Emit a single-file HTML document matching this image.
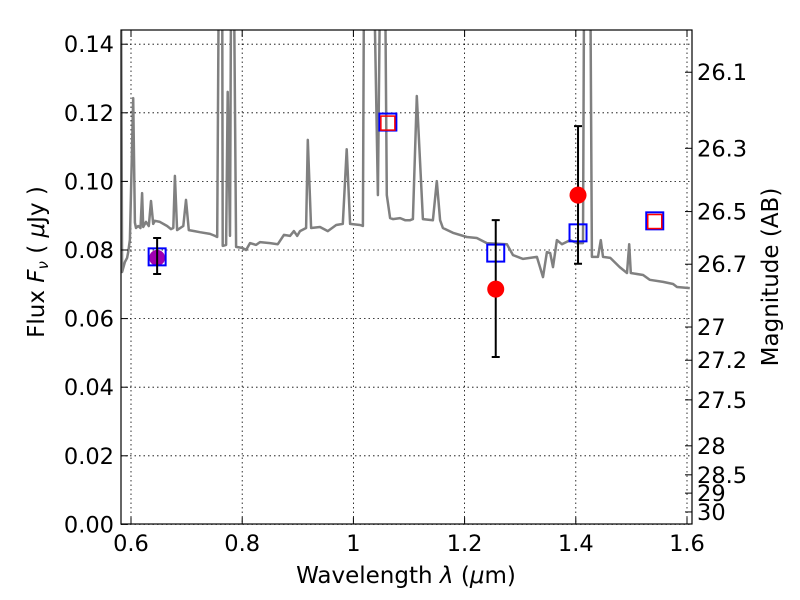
<!DOCTYPE html>
<html><head><meta charset="utf-8"><style>
html,body{margin:0;padding:0;background:#fff;}
svg{display:block;font-family:"DejaVu Sans","Liberation Sans",sans-serif;}
</style></head><body>
<svg id="chart" width="800" height="600" viewBox="0 0 800 600" xmlns="http://www.w3.org/2000/svg">
<defs><clipPath id="clip"><rect x="121" y="30" width="571" height="494"/></clipPath></defs>
<rect x="0" y="0" width="800" height="600" fill="#fff"/>
<g id="grid"></g>
<g id="plot" clip-path="url(#clip)"></g>
<rect x="121" y="30" width="571" height="494" fill="none" stroke="#000" stroke-width="1.2"/>
<g id="axes"></g>
<text x="406" y="583" font-size="23" text-anchor="middle">Wavelength  <tspan font-style="italic">λ</tspan> (<tspan font-style="italic">μ</tspan>m)</text>
<text transform="translate(44,262) rotate(-90)" font-size="23" text-anchor="middle">Flux  <tspan font-style="italic">F</tspan><tspan font-style="italic" font-size="15" dy="4">ν</tspan><tspan dy="-4">  ( </tspan><tspan font-style="italic">μ</tspan>Jy )</text>
<text transform="translate(778,277) rotate(-90)" font-size="23" text-anchor="middle">Magnitude (AB)</text>
</svg>
<script>
const specWave=[0.582,0.584,0.589,0.593,0.595,0.598,0.604,0.607,0.609,0.613,0.617,0.620,0.622,0.627,0.632,0.636,0.640,0.643,0.652,0.665,0.672,0.676,0.679,0.683,0.694,0.699,0.704,0.714,0.724,0.742,0.751,0.755,0.758,0.764,0.765,0.771,0.774,0.778,0.780,0.785,0.789,0.800,0.807,0.814,0.825,0.832,0.850,0.864,0.875,0.886,0.893,0.899,0.904,0.915,0.918,0.924,0.940,0.954,0.969,0.981,0.988,0.994,1.012,1.017,1.019,1.037,1.044,1.048,1.057,1.060,1.066,1.071,1.084,1.093,1.102,1.107,1.114,1.125,1.143,1.150,1.156,1.161,1.179,1.204,1.222,1.240,1.276,1.287,1.305,1.330,1.341,1.348,1.354,1.359,1.366,1.375,1.390,1.402,1.413,1.415,1.426,1.429,1.440,1.445,1.449,1.462,1.479,1.492,1.496,1.499,1.521,1.533,1.557,1.575,1.582,1.605];
const specFlux=[0.16,0.0736,0.0765,0.0777,0.0794,0.0830,0.1243,0.0880,0.0864,0.0870,0.0864,0.0966,0.0867,0.0882,0.0870,0.0943,0.0876,0.0885,0.0882,0.0870,0.0861,0.0864,0.1016,0.0858,0.0870,0.0946,0.0858,0.0855,0.0852,0.0847,0.0841,0.0838,0.16,0.16,0.0812,0.0815,0.1261,0.0841,0.16,0.16,0.0809,0.0806,0.0800,0.0820,0.0815,0.0823,0.0820,0.0817,0.0844,0.0841,0.0855,0.0841,0.0855,0.0864,0.1121,0.0864,0.0867,0.0855,0.0873,0.0876,0.1094,0.0876,0.0873,0.0870,0.16,0.16,0.0960,0.16,0.16,0.0960,0.0893,0.0890,0.0893,0.0887,0.0887,0.0890,0.1249,0.0890,0.0887,0.1001,0.0887,0.0864,0.0850,0.0838,0.0835,0.0820,0.0817,0.0785,0.0774,0.0780,0.0721,0.0794,0.0791,0.0750,0.0829,0.0817,0.0829,0.0820,0.0820,0.16,0.16,0.0780,0.0780,0.0829,0.0780,0.0777,0.0750,0.0733,0.0817,0.0733,0.0727,0.0713,0.0707,0.0701,0.0692,0.0689];
const modelWave=[0.647,1.062,1.256,1.404,1.542];
const modelFlux=[0.0780,0.1173,0.0791,0.0850,0.0885];
const innerWave=[1.062,1.542];
const innerFlux=[0.1170,0.0883];
const obsWave=[1.256,1.404];
const obsFlux=[0.0686,0.0960];
const obsLo=[0.0488,0.0760];
const obsHi=[0.0887,0.1161];
const purpleWave=[0.647];
const purpleFlux=[0.0777];
const purpleLo=[0.0730];
const purpleHi=[0.0835];
const xTicks=[0.6,0.8,1.0,1.2,1.4,1.6];
const xTickLabels=["0.6","0.8","1","1.2","1.4","1.6"];
const yTicks=[0,0.02,0.04,0.06,0.08,0.10,0.12,0.14];
const yTickLabels=["0.00","0.02","0.04","0.06","0.08","0.10","0.12","0.14"];
const magTicks=[26.1,26.3,26.5,26.7,27,27.2,27.5,28,28.5,29,30];
const magTickLabels=["26.1","26.3","26.5","26.7","27","27.2","27.5","28","28.5","29","30"];

const NS="http://www.w3.org/2000/svg";
const X0=121,X1=692,Y0=524.4,Y1=30;
function sx(l){return 131+(l-0.6)*556;}
function sy(f){return 524.4-f*3430;}
function magToFlux(m){return Math.pow(10,(23.9-m)/2.5);}
function mk(tag,attrs,parent){const e=document.createElementNS(NS,tag);for(const k in attrs)e.setAttribute(k,attrs[k]);parent.appendChild(e);return e;}
const grid=document.getElementById('grid'),plot=document.getElementById('plot'),axes=document.getElementById('axes');

xTicks.forEach((t,i)=>{
  const x=sx(t);
  const g=mk('line',{x1:x,x2:x,y1:Y1,y2:Y0,stroke:'#000','stroke-width':0.8,'stroke-dasharray':'1.5,3'},grid);
  
  
  const tk=mk('path',{d:`M${x},${Y0}v-7M${x},${Y1}v7`,stroke:'#000','stroke-width':1},axes);
  
  
  const tx=mk('text',{x:x,y:551,'font-size':22.5,'text-anchor':'middle'},axes);
  tx.textContent=xTickLabels[i];
  
  
});
yTicks.forEach((t,i)=>{
  const y=sy(t);
  const g=mk('line',{x1:X0,x2:X1,y1:y,y2:y,stroke:'#000','stroke-width':0.8,'stroke-dasharray':'1.5,3'},grid);
  
  
  const tk=mk('path',{d:`M${X0},${y}h7`,stroke:'#000','stroke-width':1},axes);
  
  
  const tx=mk('text',{x:114,y:y+8,'font-size':22.5,'text-anchor':'end'},axes);
  tx.textContent=yTickLabels[i];
  
  
});
magTicks.forEach((m,i)=>{
  const y=sy(magToFlux(m));
  const tk=mk('path',{d:`M${X1},${y}h-7`,stroke:'#000','stroke-width':1},axes);
  
  
  const tx=mk('text',{x:697,y:y+8,'font-size':22.5,'text-anchor':'start'},axes);
  tx.textContent=magTickLabels[i];
  
  
});

const pts=specWave.map((w,i)=>`${sx(w).toFixed(1)},${sy(specFlux[i]).toFixed(1)}`).join(' ');
const line=mk('polyline',{points:pts,fill:'none',stroke:'#808080','stroke-width':2.5,'stroke-linejoin':'round'},plot);



function errbar(w,lo,hi,name){
  const x=sx(w),a=sy(lo),b=sy(hi);
  const e=mk('path',{d:`M${x},${a}V${b}M${x-4},${a}h8M${x-4},${b}h8`,stroke:'#000','stroke-width':2,fill:'none'},plot);
  
  
}
purpleWave.forEach((w,i)=>{
  const c=mk('circle',{cx:sx(w),cy:sy(purpleFlux[i]),r:8,fill:'#a000b0'},plot);
  
  
});
modelWave.forEach((w,i)=>{
  const x=sx(w),y=sy(modelFlux[i]);
  const r=mk('rect',{x:x-8.5,y:y-8.5,width:17,height:17,fill:'none',stroke:'#0000ff','stroke-width':2},plot);
  
  
});
innerWave.forEach((w,i)=>{
  const x=sx(w),y=sy(innerFlux[i]);
  const r=mk('rect',{x:x-7,y:y-7,width:14,height:14,fill:'none',stroke:'#ff0000','stroke-width':1.5},plot);
  
  
});
purpleWave.forEach((w,i)=>errbar(w,purpleLo[i],purpleHi[i],'purple-error-bar'));
obsWave.forEach((w,i)=>{
  errbar(w,obsLo[i],obsHi[i],'observed-error-bar');
  const c=mk('circle',{cx:sx(w),cy:sy(obsFlux[i]),r:8.5,fill:'#ff0000'},plot);
  
  
});
</script>
</body></html>
